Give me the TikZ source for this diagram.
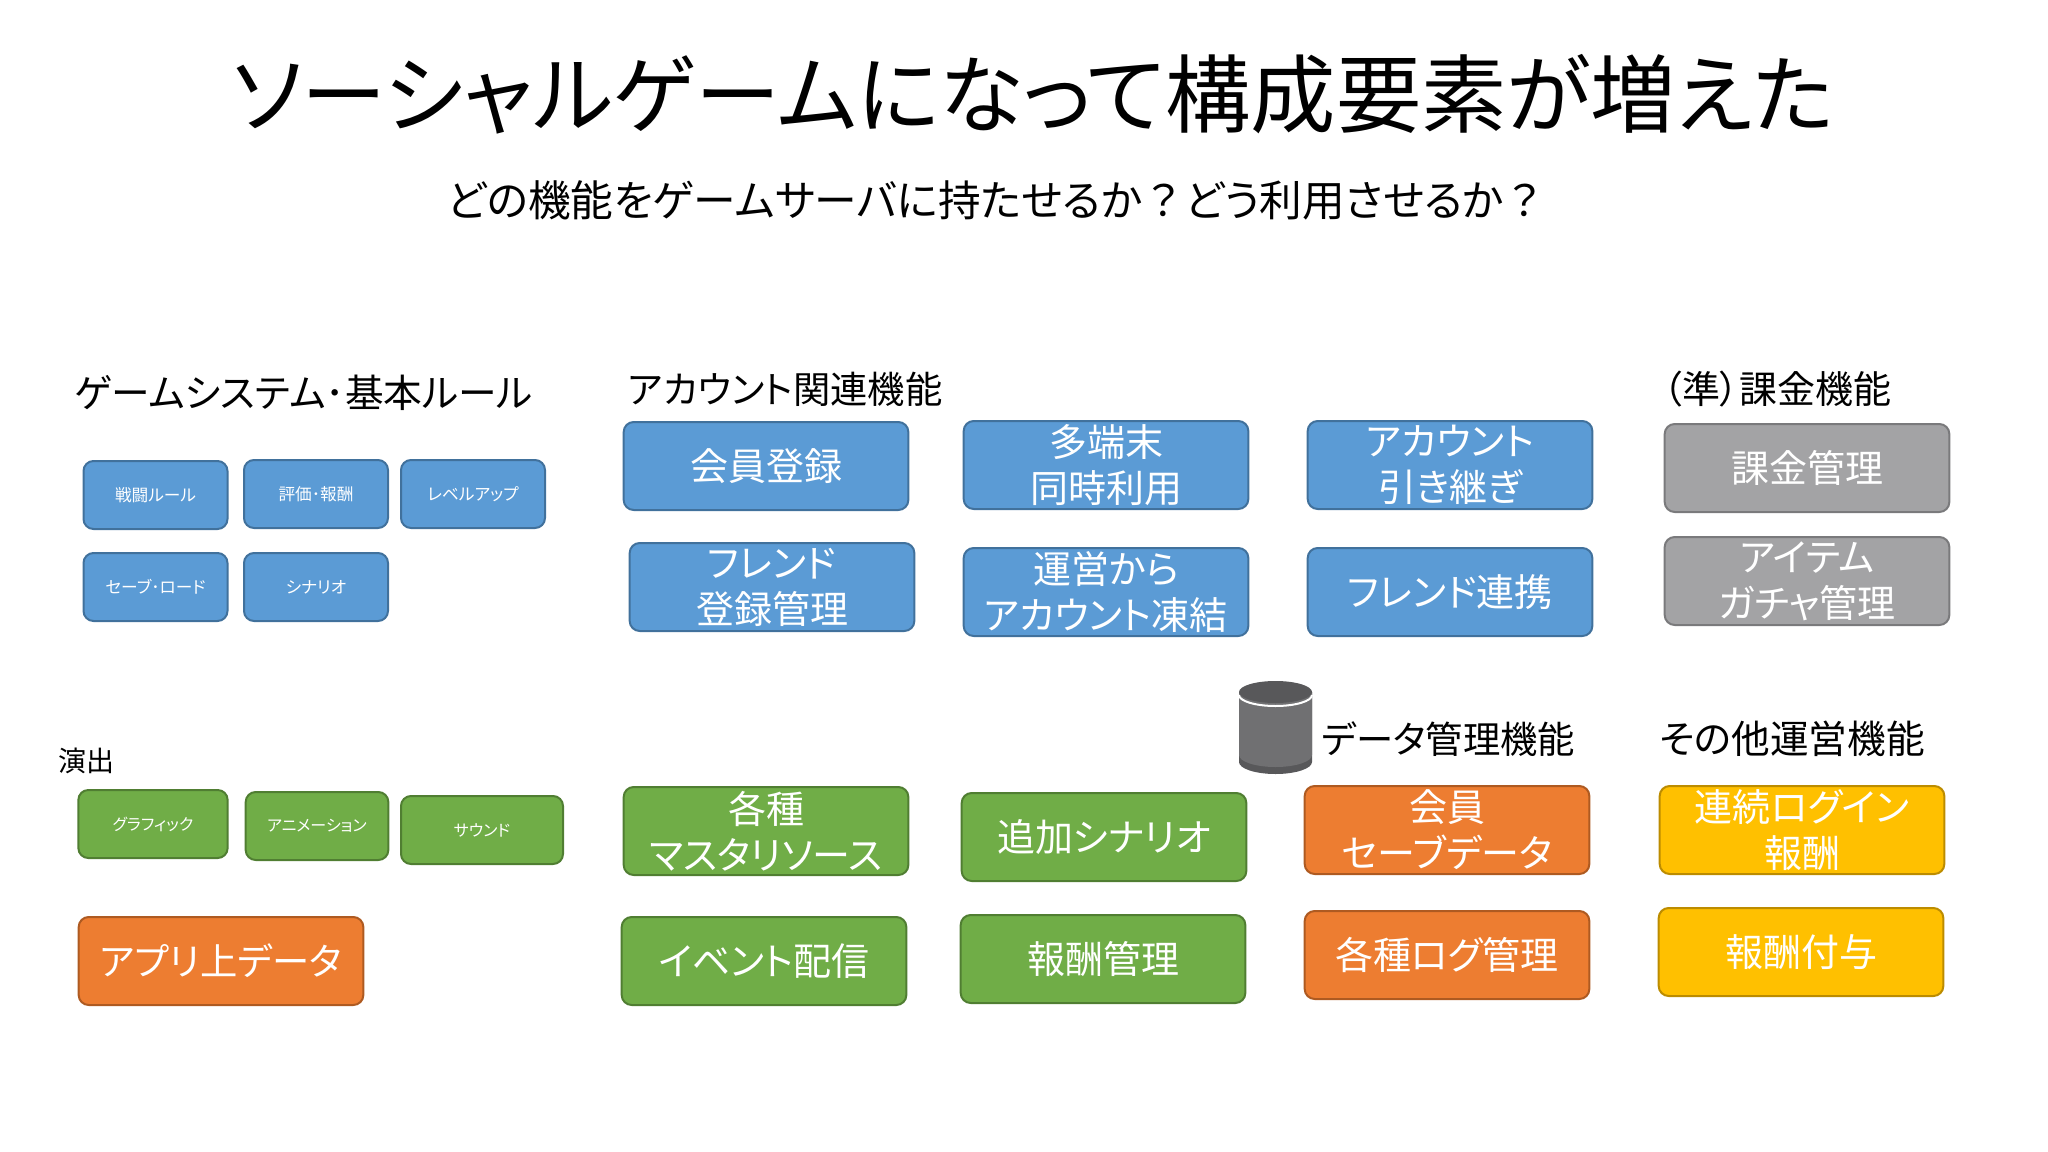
\documentclass[tikz,border=0pt]{standalone}
\usepackage{fontspec}
\setmainfont[RawFeature=+palt]{Noto Sans CJK JP}
\newfontfamily\fullcjk{Noto Sans CJK JP}
\definecolor{boxblue}{HTML}{5B9BD5}
\definecolor{lineblue}{HTML}{41719C}
\definecolor{boxgreen}{HTML}{70AD47}
\definecolor{linegreen}{HTML}{507E32}
\definecolor{boxorange}{HTML}{ED7D31}
\definecolor{lineorange}{HTML}{AE5A21}
\definecolor{boxyellow}{HTML}{FFC000}
\definecolor{lineyellow}{HTML}{BC8C00}
\definecolor{boxgrey}{HTML}{A3A3A5}
\definecolor{linegrey}{HTML}{7A7A7C}
\tikzset{
  cardbox/.style={rounded corners=7.5pt,line width=1.5pt,text=white,align=center,inner sep=0pt,
    minimum width=213.5pt,minimum height=66pt,font=\fontsize{28.5}{34.5}\selectfont},
  smallbox/.style={cardbox,minimum width=108pt,minimum height=51pt,font=\fontsize{12.5}{14}\selectfont},
  bluebox/.style={cardbox,fill=boxblue,draw=lineblue},
  greenbox/.style={cardbox,fill=boxgreen,draw=linegreen},
  orangebox/.style={cardbox,fill=boxorange,draw=lineorange},
  yellowbox/.style={cardbox,fill=boxyellow,draw=lineyellow},
  greybox/.style={cardbox,fill=boxgrey,draw=linegrey},
  headtext/.style={anchor=west,inner sep=0pt,font=\fontsize{28.5}{34}\selectfont},
}
\begin{document}
\begin{tikzpicture}[x=0.75pt,y=0.75pt,yscale=-1,xscale=1]
\useasboundingbox (0,0) rectangle (2048,1152);

% Text Node
\draw (1033,94) node [inner sep=0pt,font=\fontsize{64}{74}\selectfont] (title) {ソーシャルゲームになって構成要素が増えた};
\draw (997,200) node [inner sep=0pt,font=\fontsize{32}{36}\selectfont] (subtitle) {どの機能をゲームサーバに持たせるか{\fullcjk ？}どう利用させるか{\fullcjk ？}};
\draw (74,393) node [headtext,font=\fontsize{29}{34}\selectfont] (headgame) {ゲームシステム･基本ルール};
\draw (628,389) node [headtext,font=\fontsize{28}{34}\selectfont] (headaccount) {アカウント関連機能};
\draw (1663,389) node [headtext] (headbilling) {（準）課金機能};
\draw (1321,739) node [headtext,font=\fontsize{28}{34}\selectfont] (headdata) {データ管理機能};
\draw (1659,739) node [headtext,font=\fontsize{29}{34}\selectfont] (headother) {その他運営機能};
\draw (58,761) node [headtext,font=\fontsize{21}{24}\selectfont] (headshow) {演出};

% Game system
\draw (155.5,495) node [bluebox,smallbox] (battle) {戦闘ルール};
\draw (316,494) node [bluebox,smallbox] (reward) {評価･報酬};
\draw (473,494) node [bluebox,smallbox] (levelup) {レベルアップ};
\draw (155.5,587) node [bluebox,smallbox] (saveload) {セーブ･ロード};
\draw (316,587) node [bluebox,smallbox] (scenario) {シナリオ};

% Effects
\draw (153,824) node [greenbox,smallbox,minimum width=112pt,font=\fontsize{12}{14}\selectfont] (graphic) {グラフィック};
\draw (317,826) node [greenbox,smallbox,minimum width=107pt,font=\fontsize{12}{14}\selectfont] (animation) {アニメーション};
\draw (482,830) node [greenbox,smallbox,minimum width=121.5pt,font=\fontsize{12}{14}\selectfont] (sound) {サウンド};
\draw (221,961) node [orangebox,font=\fontsize{28}{34}\selectfont] (appdata) {アプリ上データ};

% Account
\draw (766,466) node [bluebox] (signup) {会員登録};
\draw (1106,465) node [bluebox] (multi) {多端末\\同時利用};
\draw (1450,465) node [bluebox] (handover) {アカウント\\引き継ぎ};
\draw (772,587) node [bluebox] (friendreg) {フレンド\\登録管理};
\draw (1106,592) node [bluebox] (freeze) {運営から\\アカウント凍結};
\draw (1450,592) node [bluebox] (friendlink) {フレンド連携};

% Billing
\draw (1807,468) node [greybox] (billing) {課金管理};
\draw (1807,581) node [greybox] (gacha) {アイテム\\ガチャ管理};

% Data
\draw (766,831) node [greenbox] (master) {各種\\マスタリソース};
\draw (1104,837) node [greenbox] (addscenario) {追加シナリオ};
\draw (764,961) node [greenbox] (eventdist) {イベント配信};
\draw (1103,959) node [greenbox] (rewardmgr) {報酬管理};
\draw (1447,830) node [orangebox] (savedata) {会員\\セーブデータ};
\draw (1447,955) node [orangebox] (logmgr) {各種ログ管理};

% Other
\draw (1802,830) node [yellowbox] (login) {連続ログイン\\報酬};
\draw (1801,952) node [yellowbox] (grant) {報酬付与};

% Cylinder
\fill [color={rgb, 255:red, 88; green, 88; blue, 90 }] (1239,692) -- (1239,762) arc [start angle=180,end angle=0,x radius=36.5,y radius=12] -- (1312,692) -- cycle;
\fill [color={rgb, 255:red, 112; green, 112; blue, 114 }] (1239,692) -- (1239,755) arc [start angle=180,end angle=0,x radius=36.5,y radius=12] -- (1312,692) -- cycle;
\draw [white,line width=1.5pt] (1239,695) arc [start angle=180,end angle=0,x radius=36.5,y radius=11];
\fill [color={rgb, 255:red, 88; green, 88; blue, 90 }] (1275.5,692) ellipse [x radius=36.5,y radius=11];

\end{tikzpicture}
\end{document}
